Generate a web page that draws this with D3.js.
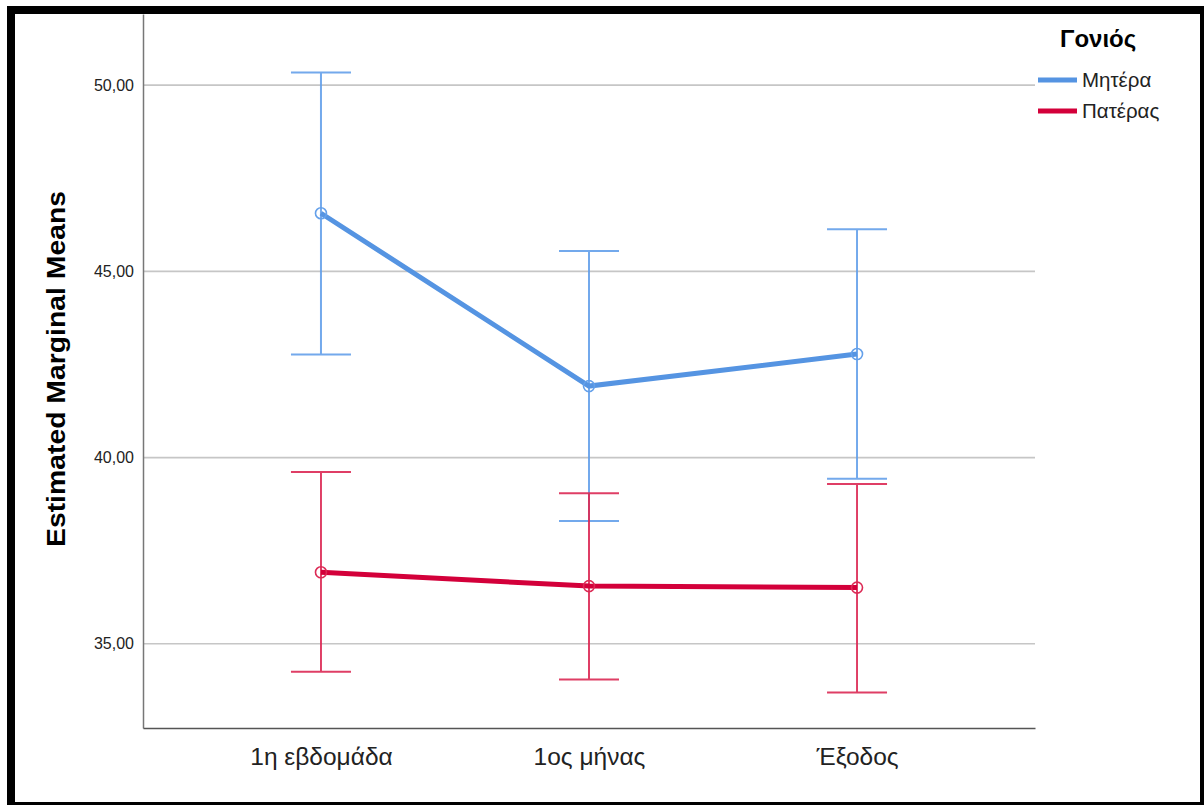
<!DOCTYPE html>
<html>
<head>
<meta charset="utf-8">
<script src="https://cdn.jsdelivr.net/npm/d3@7"></script>
<style>
  body { margin: 0; background: #fff; }
  text { font-family: "Liberation Sans", Arial, sans-serif; }
</style>
</head>
<body>
<div id="chart"></div>
<script>
// categories and series
const categories = ["1η εβδομάδα", "1ος μήνας", "Έξοδος"];
const seriesNames = ["Μητέρα", "Πατέρας"];
const motherMean = [46.56, 41.92, 42.78];
const motherUpper = [50.34, 45.55, 46.13];
const motherLower = [42.77, 38.30, 39.43];
const fatherMean = [36.92, 36.55, 36.51];
const fatherUpper = [39.61, 39.04, 39.29];
const fatherLower = [34.25, 34.04, 33.69];
const yTicks = [35, 40, 45, 50];

const colors = { line: ["#5594e2", "#d3003a"], bar: ["#64a0ea", "#dc2a55"] };

const W = 1204, H = 805;
const margin = { top: 14, right: 169, bottom: 77, left: 143 };

const svg = d3.select("#chart").append("svg")
  .attr("width", W).attr("height", H);

// black frame
svg.append("rect").attr("x", 0).attr("y", 0).attr("width", W).attr("height", H).attr("fill", "#fff");
svg.append("rect").attr("x", 11).attr("y", 10).attr("width", 1193).attr("height", 796)
  .attr("fill", "none").attr("stroke", "#000").attr("stroke-width", 8);

const width = W - margin.left - margin.right;
const height = H - margin.top - margin.bottom;

const x = d3.scalePoint().domain(categories).range([0, width]).padding(0.664);
const y = d3.scaleLinear().domain([32.74, 51.91]).range([height, 0]);

const g = svg.append("g").attr("transform", "translate(" + margin.left + "," + margin.top + ")");

// gridlines
g.append("g")
  .selectAll("line").data(yTicks).enter().append("line")
  .attr("x1", 0).attr("x2", width)
  .attr("y1", d => y(d)).attr("y2", d => y(d))
  .attr("stroke", "#c6c6c6").attr("stroke-width", 1.6);

// axes
const yAxis = g.append("g")
  .call(d3.axisLeft(y).tickValues(yTicks).tickSize(0).tickPadding(9)
    .tickFormat(d => d3.format(".2f")(d).replace(".", ",")));
yAxis.select(".domain").attr("stroke", "#777").attr("stroke-width", 1.5);
yAxis.selectAll("text").attr("font-size", 16).attr("fill", "#222")
  .attr("font-family", "Liberation Sans, Arial, sans-serif");

const xAxis = g.append("g").attr("transform", "translate(0," + height + ")")
  .call(d3.axisBottom(x).tickSize(0).tickPadding(20));
xAxis.select(".domain").attr("stroke", "#555").attr("stroke-width", 1.5);
xAxis.selectAll("text").attr("font-size", 24.5).attr("fill", "#222")
  .attr("font-family", "Liberation Sans, Arial, sans-serif");

// axis title
svg.append("text")
  .attr("transform", "translate(65," + 369 + ") rotate(-90)")
  .attr("text-anchor", "middle")
  .attr("font-size", 25).attr("font-weight", "bold").attr("fill", "#000")
  .attr("textLength", 356).attr("lengthAdjust", "spacingAndGlyphs")
  .text("Estimated Marginal Means");

const series = [
  { mean: motherMean, upper: motherUpper, lower: motherLower },
  { mean: fatherMean, upper: fatherUpper, lower: fatherLower }
];

const capHalf = 30;
series.forEach((s, si) => {
  const eb = g.append("g").attr("stroke", colors.bar[si]).attr("stroke-width", 2).attr("opacity", 0.9);
  categories.forEach((c, i) => {
    eb.append("line").attr("x1", x(c)).attr("x2", x(c))
      .attr("y1", y(s.upper[i])).attr("y2", y(s.lower[i]));
    eb.append("line").attr("x1", x(c) - capHalf).attr("x2", x(c) + capHalf)
      .attr("y1", y(s.upper[i])).attr("y2", y(s.upper[i]));
    eb.append("line").attr("x1", x(c) - capHalf).attr("x2", x(c) + capHalf)
      .attr("y1", y(s.lower[i])).attr("y2", y(s.lower[i]));
  });

  const line = d3.line()
    .x((d, i) => x(categories[i]))
    .y(d => y(d));
  g.append("path")
    .attr("d", line(s.mean))
    .attr("fill", "none")
    .attr("stroke", colors.line[si])
    .attr("stroke-width", 5);

  g.selectAll(".pt" + si).data(s.mean).enter().append("circle")
    .attr("cx", (d, i) => x(categories[i]))
    .attr("cy", d => y(d))
    .attr("r", 5.5)
    .attr("fill", "none")
    .attr("stroke", colors.bar[si])
    .attr("stroke-width", 1.6);
});

// legend
const lg = svg.append("g").attr("transform", "translate(1038,0)");
lg.append("text").attr("x", 22).attr("y", 47)
  .attr("font-size", 24).attr("font-weight", "bold").text("Γονιός");
seriesNames.forEach((n, i) => {
  const ly = 80 + i * 31;
  lg.append("line").attr("x1", 0).attr("x2", 39).attr("y1", ly).attr("y2", ly)
    .attr("stroke", colors.line[i]).attr("stroke-width", 5);
  lg.append("text").attr("x", 44).attr("y", ly + 7)
    .attr("font-size", 20.5).attr("fill", "#222").text(n);
});
</script>
</body>
</html>
